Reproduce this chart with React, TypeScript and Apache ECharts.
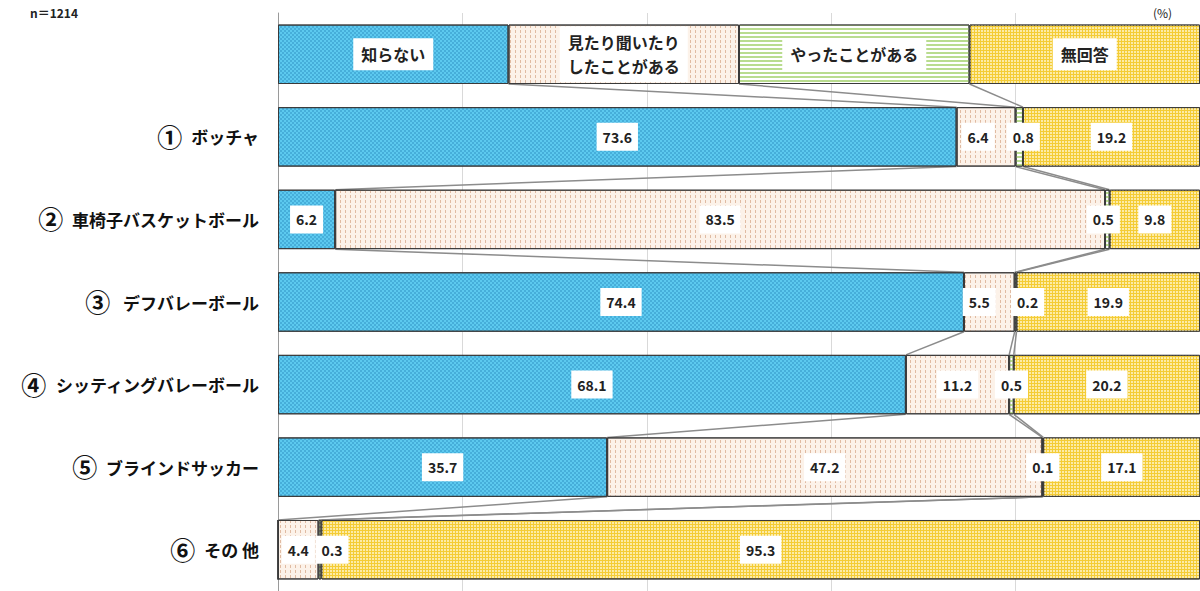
import React, { useEffect, useRef } from 'react';
import * as echarts from 'echarts';

const categories = ['', '① ボッチャ', '② 車椅子バスケットボール', '③  デフバレーボール', '④ シッティングバレーボール', '⑤ ブラインドサッカー', '⑥ その 他'];
const seriesNames = ['知らない', '見たり聞いたり\nしたことがある', 'やったことがある', '無回答'];
const legendRow = [25, 25, 25, 25];
const unknown = [73.6, 6.2, 74.4, 68.1, 35.7, 0];
const heard = [6.4, 83.5, 5.5, 11.2, 47.2, 4.4];
const done = [0.8, 0.5, 0.2, 0.5, 0.1, 0.3];
const noAnswer = [19.2, 9.8, 19.9, 20.2, 17.1, 95.3];

const FONT = '"Noto Sans CJK JP", "Noto Sans", sans-serif';

const styles = [
  { color: '#5CC9EF', decal: { symbol: 'rect', symbolSize: 1, color: 'rgba(25,120,175,0.32)', dashArrayX: [[2, 2], [0, 2, 2, 0]], dashArrayY: [2, 0] } },
  { color: '#FCF2E9', decal: { symbol: 'rect', symbolSize: 1, color: 'rgba(205,150,115,0.6)', dashArrayX: [1, 4], dashArrayY: [3, 2] } },
  { color: '#FFFFFF', decal: { symbol: 'rect', symbolSize: 1, color: '#B9DC8F', dashArrayX: [[1, 0]], dashArrayY: [2, 2] } },
  { color: '#F4CC35', decal: { symbol: 'rect', symbolSize: 1, color: '#FCEBA6', dashArrayX: [2, 1], dashArrayY: [2, 1] } },
];

const labelOffsets: Record<string, [number, number]> = {
  '1-0': [-8, 0], '2-0': [4, 0], '2-1': [-4, 0], '1-2': [-10, 0], '2-2': [12, 0], '2-5': [12, 0],
};

export default function App() {
  const ref = useRef<HTMLDivElement>(null);
  useEffect(() => {
    if (!ref.current) return;
    const chart = echarts.init(ref.current, undefined, { renderer: 'svg' });
    const valueSets = [unknown, heard, done, noAnswer];
    const rows = [legendRow, ...unknown.map((_, i) => valueSets.map((vs) => vs[i]))];
    const connectors: number[][] = [];
    for (let i = 0; i < rows.length - 1; i++) {
      let c1 = 0;
      let c2 = 0;
      for (let k = 0; k < 3; k++) {
        c1 += rows[i][k];
        c2 += rows[i + 1][k];
        connectors.push([c1, i, c2, i + 1]);
      }
    }
    const baseLabel = {
      show: true,
      position: 'inside',
      backgroundColor: '#fff',
      color: '#222',
      fontWeight: 'bold',
      fontSize: 14,
      fontFamily: FONT,
      padding: [7, 6],
      formatter: (p: any) => Number(p.value).toFixed(1),
    };
    const barSeries = valueSets.map((vs, s) => ({
      type: 'bar',
      name: seriesNames[s],
      stack: 'total',
      barWidth: '72%',
      itemStyle: { color: styles[s].color, decal: styles[s].decal, borderColor: '#3a3a3a', borderWidth: 1 },
      label: baseLabel,
      emphasis: { disabled: true },
      data: [
        { value: legendRow[s], label: { formatter: seriesNames[s], fontSize: 16, lineHeight: 24, padding: [4, 8] } },
        ...vs.map((v, i) => {
          const off = labelOffsets[`${s}-${i}`];
          if (v === 0) return { value: v, label: { show: false } };
          return off ? { value: v, label: { offset: off } } : v;
        }),
      ],
    }));
    chart.setOption({
      animation: false,
      textStyle: { fontFamily: FONT },
      grid: { left: 278, top: 13, height: 582, right: -3 },
      xAxis: {
        type: 'value', min: 0, max: 100, interval: 20,
        axisLabel: { show: false }, axisTick: { show: false }, axisLine: { show: false },
        splitLine: { lineStyle: { color: '#d9d9d9' } },
      },
      yAxis: {
        type: 'category', inverse: true, data: categories,
        axisLine: { lineStyle: { color: '#9a9a9a' } },
        axisTick: { length: 5, lineStyle: { color: '#9a9a9a' } },
        axisLabel: {
          color: '#111', fontWeight: 'bold', fontSize: 17, margin: 19, fontFamily: FONT,
          formatter: (v: string) => (v ? `{n|${v.charAt(0)}}{t|${v.slice(1)}}` : ''),
          rich: {
            n: { fontSize: 25, fontWeight: 'bold', color: '#111', fontFamily: FONT, padding: [0, 5, 2, 0] },
            t: { fontSize: 17, fontWeight: 'bold', color: '#111', fontFamily: FONT },
          },
        },
      },
      graphic: [
        { type: 'text', left: 30, top: 6, style: { text: 'n＝1214', fontSize: 12, fontWeight: 'bold', fill: '#222', fontFamily: FONT } },
        { type: 'text', left: 1153, top: 6, style: { text: '(%)', fontSize: 12, fill: '#222', fontFamily: FONT } },
      ],
      series: [
        ...barSeries,
        {
          type: 'custom',
          silent: true,
          encode: { x: [0, 2], y: [1, 3] },
          data: connectors,
          z: 1,
          renderItem: (params: any, api: any) => {
            const p1 = api.coord([api.value(0), api.value(1)]);
            const p2 = api.coord([api.value(2), api.value(3)]);
            const h = (api.size([0, 1])[1] * 0.72) / 2;
            return {
              type: 'line',
              shape: { x1: p1[0], y1: p1[1] + h, x2: p2[0], y2: p2[1] - h },
              style: { stroke: '#8c8c8c', lineWidth: 1.5 },
            };
          },
        },
      ],
    });
    return () => chart.dispose();
  }, []);
  return <div ref={ref} style={{ width: 1200, height: 591, position: 'absolute', left: 0, top: 0 }} />;
}
